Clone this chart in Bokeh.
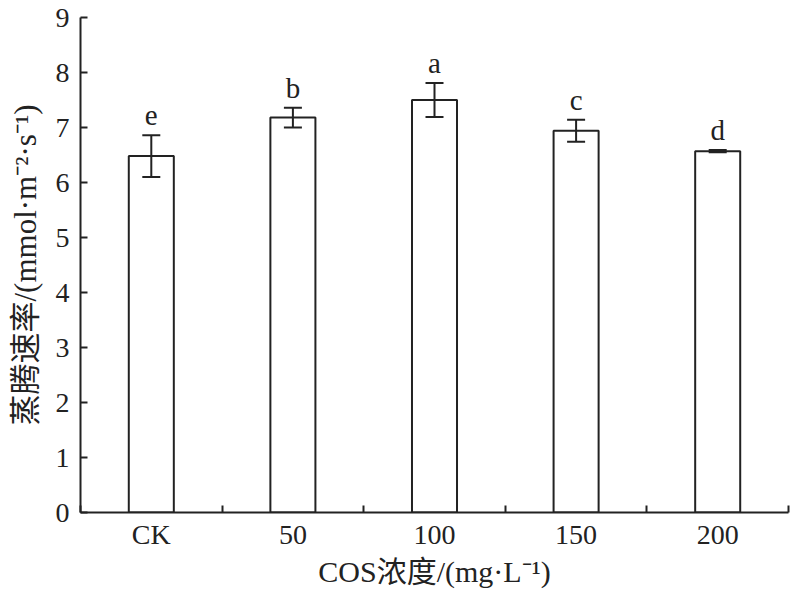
from bokeh.plotting import figure
from bokeh.models import FixedTicker, Whisker, ColumnDataSource, Range1d, LabelSet
from bokeh.embed import file_html
from bokeh.resources import INLINE

categories = ["CK", "50", "100", "150", "200"]
means = [6.48, 7.18, 7.50, 6.94, 6.57]
errors = [0.38, 0.18, 0.31, 0.20, 0.02]
letters = ["e", "b", "a", "c", "d"]
y_ticks = [0, 1, 2, 3, 4, 5, 6, 7, 8, 9]

SERIF = "Liberation Serif, Noto Sans CJK SC"
INK = "#222222"

xs = [i + 0.5 for i in range(len(categories))]
src = ColumnDataSource(dict(
    x=xs,
    top=means,
    upper=[m + e for m, e in zip(means, errors)],
    lower=[m - e for m, e in zip(means, errors)],
    letter=letters,
))

p = figure(width=790, height=592, output_backend="svg", toolbar_location=None,
           x_range=Range1d(0, len(categories)), y_range=Range1d(0, 9),
           min_border_left=80, min_border_right=2, min_border_top=17, min_border_bottom=80)
p.outline_line_color = None
p.xgrid.grid_line_color = None
p.ygrid.grid_line_color = None
p.background_fill_color = "white"
p.border_fill_color = "white"

p.vbar(x="x", top="top", bottom=0, width=0.318, source=src,
       fill_color="white", line_color=INK, line_width=2)

w = Whisker(base="x", upper="upper", lower="lower", source=src,
            line_color=INK, line_width=2, level="overlay")
for h in (w.upper_head, w.lower_head):
    h.size = 18
    h.line_color = INK
    h.line_width = 2
p.add_layout(w)

labels = LabelSet(x="x", y="upper", text="letter", source=src, text_align="center",
                  text_baseline="alphabetic", y_offset=10, text_font=SERIF,
                  text_font_size="29px", text_color=INK)
p.add_layout(labels)

# x axis: labels at category centres, ticks at category boundaries
xt = FixedTicker(ticks=xs, minor_ticks=list(range(len(categories) + 1)))
p.xaxis.ticker = xt
p.xaxis.major_label_overrides = {x: c for x, c in zip(xs, categories)}
p.xaxis.major_tick_in = 0
p.xaxis.major_tick_out = 0
p.xaxis.minor_tick_in = 7
p.xaxis.minor_tick_out = 0
p.xaxis.minor_tick_line_color = INK
p.xaxis.minor_tick_line_width = 2
p.xaxis.axis_label = "COS浓度/(mg·L⁻¹)"

p.yaxis.ticker = FixedTicker(ticks=y_ticks)
p.yaxis.major_tick_in = 7
p.yaxis.major_tick_out = 0
p.yaxis.minor_tick_line_color = None
p.yaxis.axis_label = "蒸腾速率/(mmol·m⁻²·s⁻¹)"

for ax in (p.xaxis, p.yaxis):
    ax.axis_line_color = INK
    ax.axis_line_width = 2
    ax.major_tick_line_color = INK
    ax.major_tick_line_width = 2
    ax.major_label_text_font = SERIF
    ax.major_label_text_font_size = "28px"
    ax.major_label_text_color = INK
    ax.axis_label_text_font = SERIF
    ax.axis_label_text_font_size = "30px"
    ax.axis_label_text_font_style = "normal"
    ax.axis_label_text_color = INK

p.yaxis.axis_label_text_font_size = "31px"

p.xaxis.major_label_standoff = 6
p.xaxis.axis_label_standoff = 2
p.yaxis.major_label_standoff = 11
p.yaxis.axis_label_standoff = 10

open("out.html", "w").write(file_html(p, INLINE))
